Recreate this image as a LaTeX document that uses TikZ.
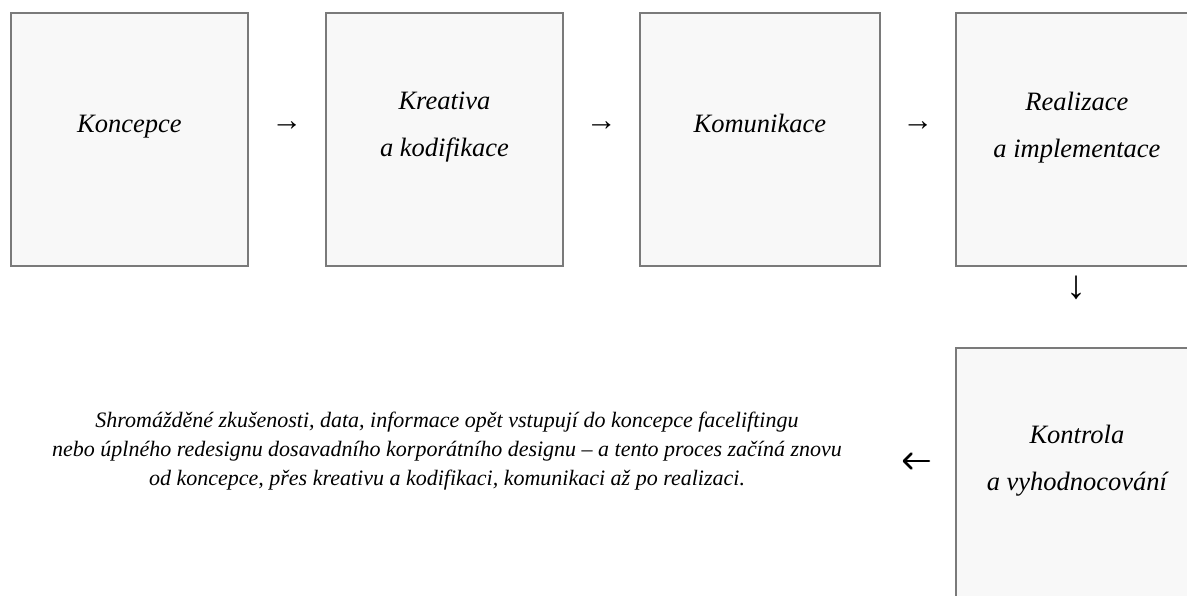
\documentclass[tikz,border=0pt]{standalone}
\usepackage{fontspec}
\setmainfont{Liberation Serif}
\usetikzlibrary{calc}
\definecolor{boxgray}{HTML}{7A7A7A}
\definecolor{boxfill}{HTML}{F8F8F8}
\begin{document}
\begin{tikzpicture}[x=1pt,y=-1pt,
  stage/.style={draw=boxgray, fill=boxfill, line width=1.8pt,
    minimum height=253pt, inner sep=0pt, anchor=north west},
  stagetext/.style={font=\fontsize{26.5}{47}\selectfont\itshape,
    align=center, anchor=base, inner sep=0pt},
  flow/.style={font=\fontsize{31}{31}\selectfont, inner sep=0pt},
  note/.style={font=\fontsize{22}{29}\selectfont\itshape,
    align=center, anchor=base, inner sep=0pt}]
  \useasboundingbox (0,0) rectangle (1187,595);
  \begin{scope}
    \clip (0,0) rectangle (1187,595);
    % stage boxes
    \node[stage, minimum width=237pt] (b1) at (10,12) {};
    \node[stage, minimum width=237pt] (b2) at (325,12) {};
    \node[stage, minimum width=240pt] (b3) at (639,12) {};
    \node[stage, minimum width=242pt] (b4) at (955,12) {};
    \node[stage, minimum width=242pt] (b5) at (955,347) {};
  \end{scope}
  % stage labels (base anchor sits on the last line)
  \node[stagetext] (t1) at ($(b1.north)+(0,120)$) {Koncepce};
  \node[stagetext] (t2) at ($(b2.north)+(0,144)$) {Kreativa\\a kodifikace};
  \node[stagetext] (t3) at ($(b3.north)+(0,120)$) {Komunikace};
  \node[stagetext] (t4) at ($(b4.north)+(0,145)$) {Realizace\\a implementace};
  \node[stagetext] (t5) at ($(b5.north)+(0,143)$) {Kontrola\\a vyhodnocování};
  % flow arrows between the stages
  \node[flow] (a12) at ($(b1.north east)!0.5!(b2.north west)+(0,114)$) {→};
  \node[flow] (a23) at ($(b2.north east)!0.5!(b3.north west)+(0,114)$) {→};
  \node[flow] (a34) at ($(b3.north east)!0.5!(b4.north west)+(0,114)$) {→};
  \node[flow, font=\fontsize{40}{40}\selectfont] (a45) at ($(b4.south)+(0,21)$) {↓};
  % heavier return arrow
  \coordinate (r1) at ($(b5.north west)+(-26,114)$);
  \coordinate (r0) at ($(r1)+(-25,0)$);
  \draw[line width=2.6pt, line cap=round, line join=round] (r1) -- (r0);
  \draw[line width=2.6pt, line cap=round, line join=round]
    ($(r0)+(7.5,-7.5)$) -- (r0) -- ($(r0)+(7.5,7.5)$);
  % closing note
  \node[note] (n) at (447,485) {Shromážděné zkušenosti, data, informace opět vstupují do koncepce faceliftingu\\nebo úplného redesignu dosavadního korporátního designu – a tento proces začíná znovu\\od koncepce, přes kreativu a kodifikaci, komunikaci až po realizaci.};
\end{tikzpicture}
\end{document}
